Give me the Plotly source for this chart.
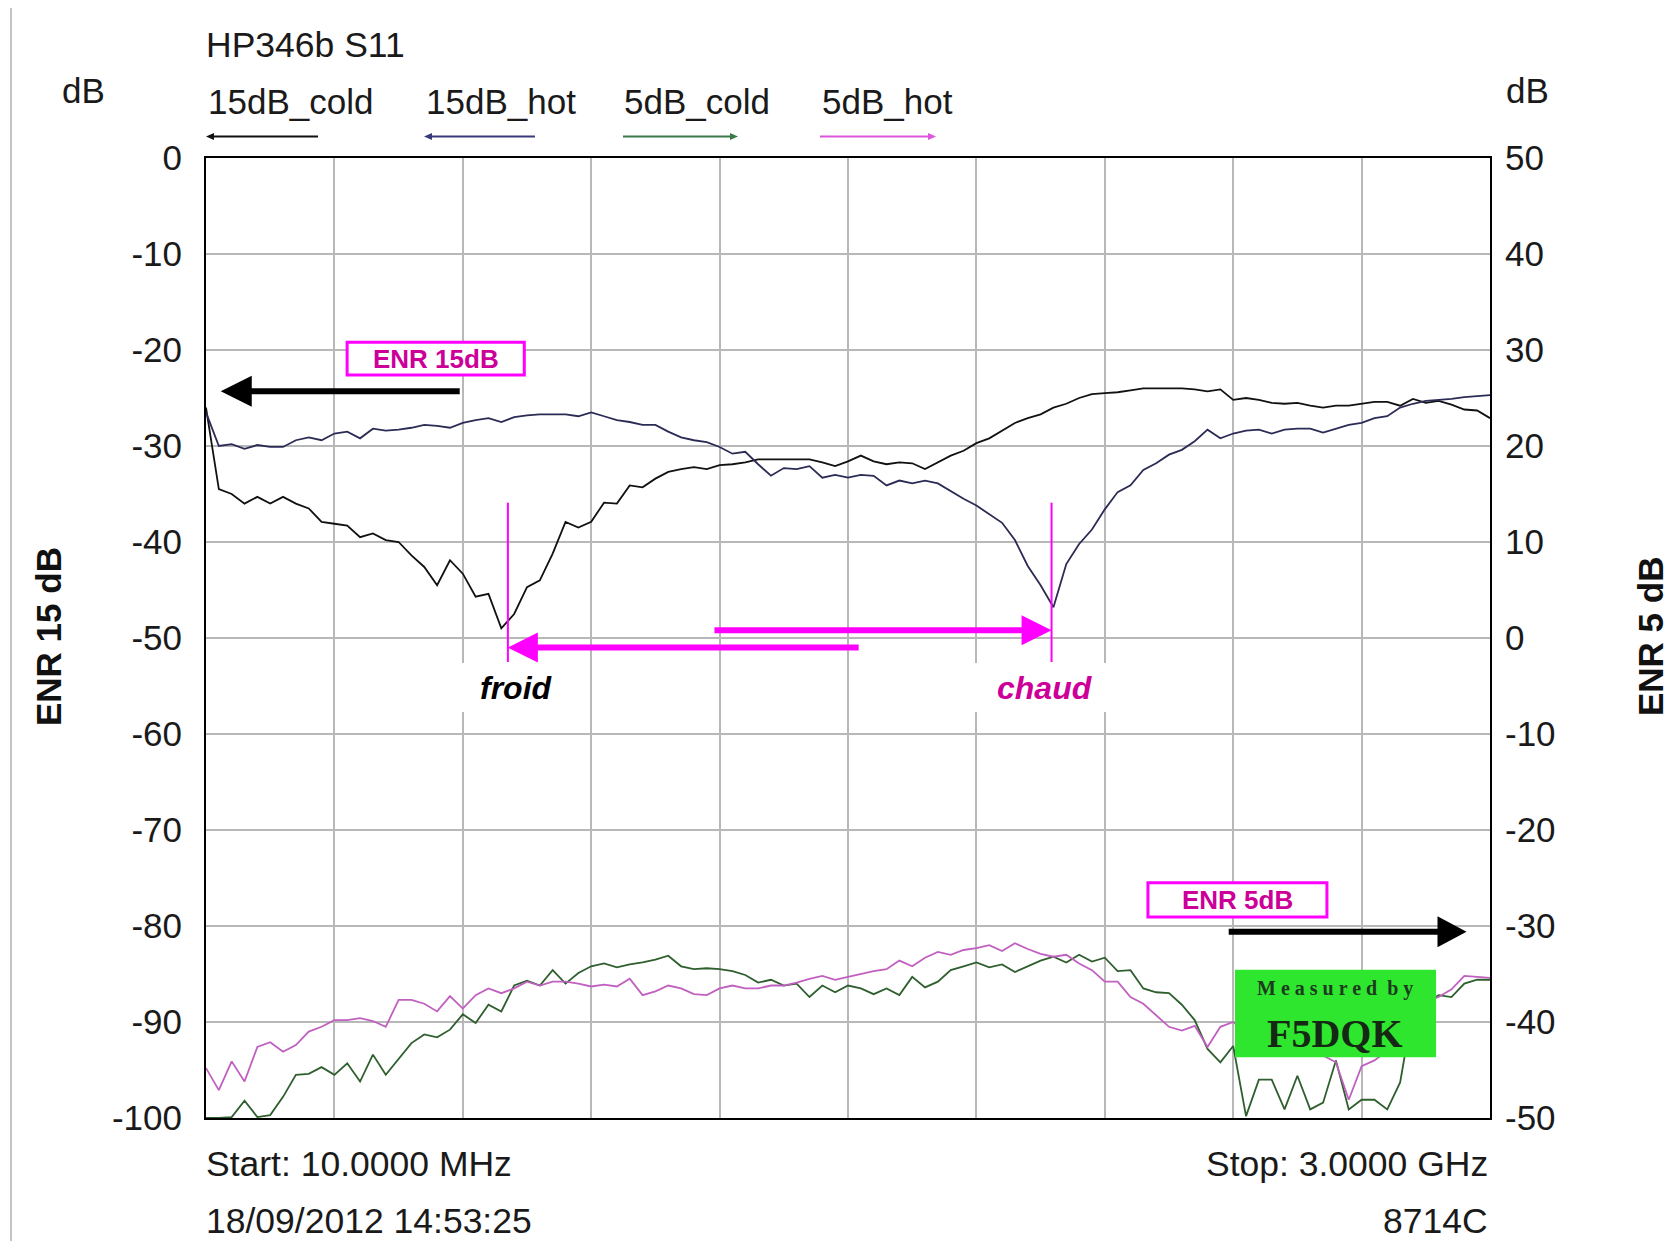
import numpy as np
import plotly.graph_objects as go

# ---------------- data ----------------
freq_start_mhz = 10.0
freq_stop_mhz = 3000.0
n_points = 101
freq_mhz = np.linspace(freq_start_mhz, freq_stop_mhz, n_points)

s11_15db_cold = [
    -26.0, -34.5, -35.0, -36.0, -35.3, -36.0, -35.3, -36.0, -36.5, -37.9,
    -38.1, -38.3, -39.5, -39.1, -39.8, -40.0, -41.4, -42.6, -44.5, -41.9,
    -43.3, -45.7, -45.4, -49.0, -47.5, -44.7, -44.0, -41.2, -37.9, -38.5,
    -37.9, -35.9, -36.0, -34.1, -34.3, -33.4, -32.7, -32.4, -32.2, -32.4,
    -32.0, -31.9, -31.7, -31.4, -31.4, -31.4, -31.4, -31.4, -31.7, -32.1,
    -31.6, -31.0, -31.6, -31.9, -31.7, -31.8, -32.4, -31.7, -31.0, -30.5,
    -29.7, -29.2, -28.4, -27.6, -27.1, -26.7, -26.0, -25.6, -25.0, -24.6,
    -24.5, -24.4, -24.2, -24.0, -24.0, -24.0, -24.0, -24.1, -24.3, -24.1,
    -25.2, -25.0, -25.2, -25.5, -25.6, -25.5, -25.8, -26.0, -25.8, -25.8,
    -25.6, -25.4, -25.4, -25.8, -25.1, -25.5, -25.3, -25.7, -26.2, -26.3,
    -27.1,
]
s11_15db_hot = [
    -26.5, -30.0, -29.8, -30.3, -29.9, -30.1, -30.1, -29.4, -29.1, -29.4,
    -28.7, -28.5, -29.2, -28.2, -28.4, -28.3, -28.1, -27.8, -27.9, -28.1,
    -27.6, -27.3, -27.1, -27.5, -27.0, -26.8, -26.7, -26.7, -26.7, -26.9,
    -26.5, -26.9, -27.3, -27.5, -27.8, -27.8, -28.5, -29.1, -29.4, -29.6,
    -30.1, -30.8, -30.6, -31.9, -33.1, -32.3, -32.4, -32.1, -33.3, -33.0,
    -33.3, -33.0, -33.1, -34.1, -33.6, -33.9, -33.6, -33.9, -34.7, -35.5,
    -36.2, -37.1, -38.0, -39.8, -42.5, -44.5, -46.8, -42.3, -40.2, -38.7,
    -36.6, -34.8, -34.1, -32.5, -31.8, -30.9, -30.4, -29.5, -28.3, -29.2,
    -28.7, -28.4, -28.3, -28.7, -28.3, -28.2, -28.2, -28.6, -28.2, -27.8,
    -27.6, -27.1, -26.9, -26.0, -25.6, -25.3, -25.2, -25.1, -24.9, -24.8,
    -24.7,
]
s11_5db_cold = [
    -50.0, -50.0, -49.9, -48.2, -49.9, -49.7, -47.8, -45.5, -45.4, -44.7,
    -45.5, -44.3, -46.2, -43.4, -45.5, -43.8, -42.2, -41.3, -41.6, -40.8,
    -39.2, -40.1, -38.2, -38.9, -36.2, -35.7, -36.2, -34.6, -36.0, -34.9,
    -34.2, -33.9, -34.3, -34.0, -33.8, -33.5, -33.1, -34.2, -34.5, -34.4,
    -34.5, -34.7, -35.1, -35.9, -35.6, -36.2, -36.0, -37.4, -36.2, -36.9,
    -36.2, -36.5, -37.1, -36.5, -37.2, -35.3, -36.4, -35.8, -34.6, -34.2,
    -33.8, -34.3, -34.0, -34.8, -34.2, -33.6, -33.2, -33.8, -33.0, -33.7,
    -33.3, -34.7, -34.6, -36.5, -36.9, -37.0, -38.2, -39.8, -42.8, -44.2,
    -42.5, -49.8, -46.0, -46.0, -49.1, -45.6, -49.1, -48.4, -44.0, -49.1,
    -48.1, -48.1, -49.1, -46.3, -38.6, -38.1, -37.2, -37.4, -36.0, -35.6,
    -35.6,
]
s11_5db_hot = [
    -44.8, -47.1, -44.1, -46.2, -42.6, -42.1, -43.1, -42.4, -41.0, -40.5,
    -39.8, -39.8, -39.6, -39.9, -40.5, -37.7, -37.7, -38.1, -38.9, -37.3,
    -38.6, -37.2, -36.5, -37.0, -36.5, -35.8, -36.2, -35.8, -35.8, -36.0,
    -36.3, -36.1, -36.3, -35.5, -37.2, -36.8, -36.2, -36.5, -37.1, -37.2,
    -36.5, -36.2, -36.5, -36.5, -36.2, -36.2, -35.9, -35.5, -35.2, -35.6,
    -35.3, -35.0, -34.7, -34.5, -33.6, -34.2, -33.3, -32.7, -33.0, -32.5,
    -32.3, -32.0, -32.6, -31.8, -32.4, -32.9, -33.2, -33.0, -33.9, -34.6,
    -35.8, -35.8, -37.4, -38.1, -39.3, -40.5, -40.9, -40.4, -42.6, -40.5,
    -40.0, -41.0, -42.0, -41.5, -42.5, -43.0, -42.0, -43.5, -44.2, -48.1,
    -44.6, -44.0, -43.0, -41.5, -38.6, -37.9, -37.4, -36.6, -35.2, -35.3,
    -35.4,
]

series_names = ["15dB_cold", "15dB_hot", "5dB_cold", "5dB_hot"]
left_tick_vals = [0, -10, -20, -30, -40, -50, -60, -70, -80, -90, -100]
left_tick_text = ["0", "-10", "-20", "-30", "-40", "-50", "-60", "-70", "-80", "-90", "-100"]
right_tick_vals = [50, 40, 30, 20, 10, 0, -10, -20, -30, -40, -50]
right_tick_text = ["50", "40", "30", "20", "10", "0", "-10", "-20", "-30", "-40", "-50"]

froid_mhz = 713.0
chaud_mhz = 1979.0

# ---------------- style / geometry ----------------
# page pixel coordinates (the page body has an 8 px margin)
OFF = 8
W_FIG, H_FIG = 1664, 1233
L, R, T, B = 206, 1490, 158, 1118          # plot area in page pixels
FONT = "Liberation Sans, Arial, sans-serif"
SERIF = "Liberation Serif, Times New Roman, serif"
C_COLD15 = "#111111"
C_HOT15 = "#2b2b55"
C_COLD5 = "#2f5f2f"
C_HOT5 = "#c060c0"
MAG = "#ff00ff"
MAG_TXT = "#cc0099"
MHZ_PER_PX = (freq_stop_mhz - freq_start_mhz) / (R - L)


def xp(px):
    return (px - L) / (R - L)


def yp(py):
    return (B - py) / (B - T)


def div_to_mhz(d):
    return freq_start_mhz + d * (freq_stop_mhz - freq_start_mhz) / 10.0


fig = go.Figure()
fig.add_trace(go.Scatter(x=freq_mhz, y=s11_15db_cold, name=series_names[0], mode="lines",
                         line=dict(color=C_COLD15, width=1.8), yaxis="y"))
fig.add_trace(go.Scatter(x=freq_mhz, y=s11_15db_hot, name=series_names[1], mode="lines",
                         line=dict(color=C_HOT15, width=1.8), yaxis="y"))
fig.add_trace(go.Scatter(x=freq_mhz, y=s11_5db_cold, name=series_names[2], mode="lines",
                         line=dict(color=C_COLD5, width=1.8), yaxis="y2"))
fig.add_trace(go.Scatter(x=freq_mhz, y=s11_5db_hot, name=series_names[3], mode="lines",
                         line=dict(color=C_HOT5, width=1.8), yaxis="y2"))

shapes = []
annotations = []


def data_arrow(x_tail, x_tip, y, color, lw=6, hl=30, hh=15):
    d = 1 if x_tail > x_tip else -1
    x_end = x_tip + d * hl * 0.6 * MHZ_PER_PX
    shapes.append(dict(type="line", xref="x", yref="y", x0=x_tail, x1=x_end, y0=y, y1=y,
                       line=dict(color=color, width=lw), layer="above"))
    shapes.append(dict(type="path", xref="x", yref="y", xsizemode="pixel", ysizemode="pixel",
                       xanchor=x_tip, yanchor=y,
                       path=f"M0,0 L{d*hl},{hh} L{d*hl},{-hh} Z",
                       fillcolor=color, line=dict(width=0), layer="above"))


def paper_arrow(px_tail, px_tip, py, color, lw=2, hl=8, hh=3.5):
    d = 1 if px_tail > px_tip else -1
    shapes.append(dict(type="line", xref="paper", yref="paper", x0=xp(px_tail), x1=xp(px_tip + d * hl * 0.6),
                       y0=yp(py), y1=yp(py), line=dict(color=color, width=lw)))
    shapes.append(dict(type="path", xref="paper", yref="paper", xsizemode="pixel", ysizemode="pixel",
                       xanchor=xp(px_tip), yanchor=yp(py),
                       path=f"M0,0 L{d*hl},{hh} L{d*hl},{-hh} Z",
                       fillcolor=color, line=dict(width=0)))


def ptext(text, px, py, size=35, xanchor="left", color="#1a1a1a", family=FONT, angle=0):
    annotations.append(dict(text=text, x=xp(px), y=yp(py), xref="paper", yref="paper",
                            xanchor=xanchor, yanchor="middle", showarrow=False, textangle=angle,
                            font=dict(size=size, color=color, family=family)))


# page left border line
shapes.append(dict(type="line", xref="paper", yref="paper", x0=xp(11), x1=xp(11), y0=yp(OFF), y1=yp(1249),
                   line=dict(color="#c4c4c4", width=2)))

# header texts
ptext("HP346b S11", 204, 45, size=35.5)
ptext("dB", 83, 90, size=35, xanchor="center")
ptext("dB", 1527, 90, size=35, xanchor="center")
legend_x = [206, 424, 622, 820]
legend_arrow = [(318, 206, C_COLD15), (535, 424, "#3a3a7a"), (623, 738, "#3a7a4a"), (820, 936, "#dd55dd")]
for name, lx, (t0, t1, col) in zip(series_names, legend_x, legend_arrow):
    ptext(name, lx, 102, size=35)
    paper_arrow(t0, t1, 136.5, col)

# axis titles
ptext("<b>ENR 15 dB</b>", 48, 637, size=35, xanchor="center", color="#111111", angle=-90)
ptext("<b>ENR 5 dB</b>", 1650, 637, size=35, xanchor="center", color="#111111", angle=-90)

# footer texts
ptext("Start: 10.0000 MHz", 204, 1164, size=35.5)
ptext("Stop: 3.0000 GHz", 1490, 1164, size=35.5, xanchor="right")
ptext("18/09/2012 14:53:25", 204, 1221, size=35.5)
ptext("8714C", 1490, 1221, size=35.5, xanchor="right")

# ENR boxes
for (x0d, x1d, y0, y1, label) in [(1.099, 2.479, -19.2, -22.6, "ENR 15dB"),
                                  (7.336, 8.73, -75.5, -79.05, "ENR 5dB")]:
    x0, x1 = div_to_mhz(x0d), div_to_mhz(x1d)
    shapes.append(dict(type="rect", xref="x", yref="y", x0=x0, x1=x1, y0=y0, y1=y1,
                       fillcolor="white", line=dict(color=MAG, width=3), layer="above"))
    annotations.append(dict(text=f"<b>{label}</b>", x=(x0 + x1) / 2, y=(y0 + y1) / 2, xref="x", yref="y",
                            showarrow=False, font=dict(size=26, color=MAG_TXT, family=FONT)))

# black arrows
data_arrow(div_to_mhz(1.976), div_to_mhz(0.115), -24.3, "#000000", lw=6, hl=31, hh=15.5)
data_arrow(div_to_mhz(7.965), div_to_mhz(9.817), -80.6, "#000000", lw=6, hl=29, hh=15.5)

# white label backgrounds for froid / chaud
for xa, xb in [(596.8, 871.6), (1793.8, 2110.5)]:
    shapes.append(dict(type="rect", xref="x", yref="y", x0=xa, x1=xb, y0=-52.6, y1=-57.7,
                       fillcolor="white", line=dict(width=0), layer="above"))

# magenta markers
for fx in [froid_mhz, chaud_mhz]:
    shapes.append(dict(type="line", xref="x", yref="y", x0=fx, x1=fx, y0=-35.9, y1=-52.5,
                       line=dict(color=MAG, width=2), layer="above"))
data_arrow(div_to_mhz(5.083), froid_mhz, -51.0, MAG, lw=6, hl=30, hh=15)
data_arrow(div_to_mhz(3.96), chaud_mhz, -49.2, MAG, lw=6, hl=30, hh=15)

annotations.append(dict(text="<b><i>froid</i></b>", x=732, y=-55.2, xref="x", yref="y", showarrow=False,
                        font=dict(size=32, color="#000000", family=FONT)))
annotations.append(dict(text="<b><i>chaud</i></b>", x=1964, y=-55.2, xref="x", yref="y", showarrow=False,
                        font=dict(size=32, color=MAG_TXT, family=FONT)))

# "Measured by" stamp
shapes.append(dict(type="rect", xref="x", yref="y", x0=div_to_mhz(8.014), x1=div_to_mhz(9.58),
                   y0=-84.56, y1=-93.68, fillcolor="#2fe62f", line=dict(width=0), layer="above"))
annotations.append(dict(text="<b>M e a s u r e d  b y</b>", x=2640, y=-86.5, xref="x", yref="y",
                        showarrow=False, font=dict(size=20, color="#1c3a1c", family=SERIF)))
annotations.append(dict(text="<b>F5DQK</b>", x=2640, y=-91.15, xref="x", yref="y",
                        showarrow=False, font=dict(size=40, color="#142814", family=SERIF)))

fig.update_layout(
    width=W_FIG, height=H_FIG,
    margin=dict(l=L - OFF, r=W_FIG - (R - OFF), t=T - OFF, b=H_FIG - (B - OFF), autoexpand=False),
    paper_bgcolor="white", plot_bgcolor="white",
    showlegend=False,
    font=dict(family=FONT, color="#1a1a1a"),
    xaxis=dict(range=[freq_start_mhz, freq_stop_mhz], tick0=freq_start_mhz,
               dtick=(freq_stop_mhz - freq_start_mhz) / 10, showticklabels=False, ticks="",
               showgrid=True, gridcolor="#b8b8b8", gridwidth=1.5, zeroline=False,
               showline=True, linecolor="#000000", linewidth=2, mirror=True),
    yaxis=dict(range=[-100, 0], tickvals=left_tick_vals, ticktext=left_tick_text,
               tickfont=dict(size=35, color="#1a1a1a", family=FONT), ticks="", ticklabelstandoff=15,
               showgrid=True, gridcolor="#b8b8b8", gridwidth=1.5, zeroline=False,
               showline=True, linecolor="#000000", linewidth=2, mirror=True),
    yaxis2=dict(range=[-50, 50], tickvals=right_tick_vals, ticktext=right_tick_text,
                overlaying="y", side="right", ticks="", ticklabelstandoff=14,
                tickfont=dict(size=35, color="#1a1a1a", family=FONT),
                showgrid=False, zeroline=False, showline=False),
    shapes=shapes,
    annotations=annotations,
)

fig.write_html("out.html")
